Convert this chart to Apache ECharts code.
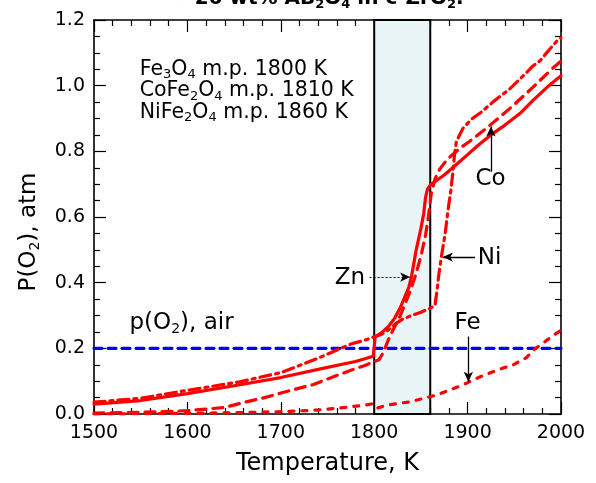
<!DOCTYPE html>
<html><head><meta charset="utf-8">
<script src="https://cdn.jsdelivr.net/npm/echarts@6/dist/echarts.min.js"></script>
<style>html,body{margin:0;padding:0;background:#fff}#c{width:596px;height:483px}</style>
</head><body><div id="c"></div>
<script>
// ---- data (temperature K, P(O2) atm) ----
const xRange = [1500, 2000];
const yRange = [0, 1.2];
const xTickStep = 100;
const yTickStep = 0.2;
const meltWindow = [1800, 1860];
const airPO2 = 0.2;

const znCurve = [
  [1500,0.030],[1550,0.041],[1600,0.062],[1650,0.086],[1700,0.111],[1750,0.142],[1780,0.160],[1799,0.176],
  [1801,0.234],[1808,0.248],[1815,0.266],[1822,0.292],[1828,0.324],[1834,0.365],[1837,0.385],[1840,0.420],
  [1845,0.500],[1850,0.565],[1853,0.610],[1855,0.660],[1857,0.685],[1860,0.697],[1867,0.712],[1875,0.728],
  [1884,0.750],[1900,0.790],[1912,0.820],[1925,0.850],[1940,0.880],[1956,0.915],[1970,0.955],[1985,0.995],[2000,1.030]
];
const coCurve = [
  [1500,0.003],[1550,0.005],[1600,0.010],[1640,0.020],[1660,0.035],[1680,0.048],[1708,0.070],[1735,0.090],
  [1755,0.112],[1775,0.133],[1790,0.148],[1805,0.165],[1810,0.188],[1815,0.225],[1820,0.255],[1828,0.300],
  [1838,0.370],[1844,0.420],[1850,0.480],[1855,0.545],[1858,0.600],[1861,0.670],[1865,0.715],[1870,0.745],
  [1878,0.775],[1892,0.810],[1902,0.830],[1920,0.870],[1945,0.930],[1968,0.990],[1990,1.050],[2000,1.075]
];
const niCurve = [
  [1500,0.036],[1550,0.048],[1600,0.072],[1656,0.098],[1700,0.126],[1713,0.140],[1740,0.170],[1760,0.195],
  [1775,0.213],[1790,0.225],[1800,0.235],[1808,0.243],[1816,0.258],[1823,0.275],[1830,0.288],[1840,0.300],
  [1850,0.310],[1860,0.322],[1865,0.330],[1867,0.370],[1869,0.420],[1872,0.480],[1876,0.550],[1879,0.620],
  [1882,0.680],[1884,0.730],[1886,0.790],[1888,0.830],[1895,0.870],[1905,0.900],[1915,0.920],[1927,0.950],
  [1945,0.990],[1956,1.020],[1970,1.060],[1978,1.077],[1986,1.105],[1996,1.137],[2000,1.146]
];
const feCurve = [
  [1500,0.000],[1600,0.002],[1650,0.004],[1700,0.007],[1740,0.012],[1763,0.018],[1790,0.027],[1798,0.031],
  [1803,0.018],[1814,0.027],[1828,0.033],[1838,0.037],[1856,0.050],[1867,0.058],[1889,0.082],[1899,0.094],
  [1913,0.113],[1938,0.140],[1949,0.150],[1963,0.172],[1972,0.198],[1985,0.225],[1992,0.240],[2000,0.255]
];
const airLine = [[xRange[0], airPO2], [xRange[1], airPO2]];

// ---- annotation texts (placed in data coordinates) ----
const titleText = '{b|~20 wt% AB}{bs|2}{b|O}{bs|4}{b| in c-ZrO}{bs|2}{b|.}';
const xName = 'Temperature, K';
const yName = '{n|P(O}{s|2}{n|), atm}';
const notes = [
  {text:'{m|Fe}{ms|3}{m|O}{ms|4}{m| m.p. 1800 K}', at:[1549,1.050], pos:'right'},
  {text:'{m|CoFe}{ms|2}{m|O}{ms|4}{m| m.p. 1810 K}', at:[1549,0.984], pos:'right'},
  {text:'{m|NiFe}{ms|2}{m|O}{ms|4}{m| m.p. 1860 K}', at:[1549,0.918], pos:'right'},
  {text:'{n|p(O}{s|2}{n|), air}', at:[1538,0.276], pos:'right'},
  {text:'{n|Zn}', at:[1774,0.414], pos:'inside'},
  {text:'{n|Ni}', at:[1911,0.476], pos:'right'},
  {text:'{n|Co}', at:[1924.5,0.716], pos:'inside'},
  {text:'{n|Fe}', at:[1900,0.276], pos:'inside'}
];
const arrows = [
  {from:[1908,0.478], to:[1873.5,0.478], dotted:false},
  {from:[1925,0.738], to:[1925,0.876], dotted:false},
  {from:[1900.8,0.236], to:[1900.8,0.098], dotted:false},
  {from:[1795,0.417], to:[1838.5,0.417], dotted:true}
];

const FONT = 'DejaVu Sans';
const RED = '#ff0000';
const rich = {
  n:{fontFamily:FONT,fontSize:23,lineHeight:26,color:'#000'},
  s:{fontFamily:FONT,fontSize:14,lineHeight:8,verticalAlign:'bottom',color:'#000'},
  m:{fontFamily:FONT,fontSize:20.5,lineHeight:24,color:'#000'},
  ms:{fontFamily:FONT,fontSize:13,lineHeight:7,verticalAlign:'bottom',color:'#000'},
  b:{fontFamily:FONT,fontSize:20,fontWeight:'bold',lineHeight:24,color:'#000'},
  bs:{fontFamily:FONT,fontSize:13,fontWeight:'bold',lineHeight:7,verticalAlign:'bottom',color:'#000'}
};

function axisCommon(showLabels, isX) {
  return {
    type:'value',
    min: isX ? xRange[0] : yRange[0],
    max: isX ? xRange[1] : yRange[1],
    interval: isX ? xTickStep : yTickStep,
    axisLine:{show:true,onZero:false,lineStyle:{color:'#000',width:1.6}},
    axisTick:{show:true,inside:true,length:12,lineStyle:{color:'#000',width:1.2}},
    minorTick:{show:true,splitNumber:isX?5:4,length:6,lineStyle:{color:'#000',width:1.2}},
    splitLine:{show:false},
    axisLabel:{show:showLabels,margin:isX?10:9,fontFamily:FONT,fontSize:19,color:'#000',
      formatter: isX ? (v)=>String(v) : (v)=>v.toFixed(1)}
  };
}

const chart = echarts.init(document.getElementById('c'));
const lineSeries = (name, data, type, color, z) => ({
  name, type:'line', data, showSymbol:false, symbol:'none', z: z||3,
  lineStyle:{color:color||RED, width:3.2, type:type, cap:'round'}
});

chart.setOption({
  animation:false,
  backgroundColor:'#fff',
  title:{text:titleText,left:178,top:-13,padding:0,textStyle:{rich}},
  grid:{left:94,right:35,top:20,bottom:69,containLabel:false},
  xAxis:[
    Object.assign(axisCommon(true,true),{position:'bottom',name:xName,nameLocation:'middle',nameGap:38,
      nameTextStyle:{fontFamily:FONT,fontSize:24,color:'#000'}}),
    Object.assign(axisCommon(false,true),{position:'top'})
  ],
  yAxis:[
    Object.assign(axisCommon(true,false),{position:'left',name:yName,nameLocation:'middle',nameGap:52,
      nameTextStyle:{rich, color:'#000', padding:[0,30,0,0]}}),
    Object.assign(axisCommon(false,false),{position:'right'})
  ],
  series:[
    Object.assign(lineSeries('air', airLine, [8,6], '#0000ff', 2), {
      markArea:{silent:true,z:1,itemStyle:{color:'#e8f4f6',borderColor:'#000',borderWidth:2},
        data:[[{xAxis:meltWindow[0]},{xAxis:meltWindow[1]}]]}
    }),
    lineSeries('Fe', feCurve, [5,8]),
    lineSeries('Co', coCurve, [10,7]),
    lineSeries('Ni', niCurve, [11,5,3,5]),
    lineSeries('Zn', znCurve, 'solid'),
    {
      name:'notes', type:'scatter', symbolSize:0, silent:true, z:10,
      data: notes.map(n=>({value:n.at, label:{show:true,formatter:n.text,position:n.pos,distance:0,color:'#000',rich}})),
      label:{show:true,color:'#000',opacity:1,rich},
      markLine:{silent:true,symbol:['none','arrow'],symbolSize:[7,10],label:{show:false},
        data: arrows.map(a=>[{coord:a.from,lineStyle:{color:'#000',width:a.dotted?1:1.3,type:a.dotted?[2,2]:'solid'}},{coord:a.to}])
      }
    }
  ]
});
</script>
</body></html>
